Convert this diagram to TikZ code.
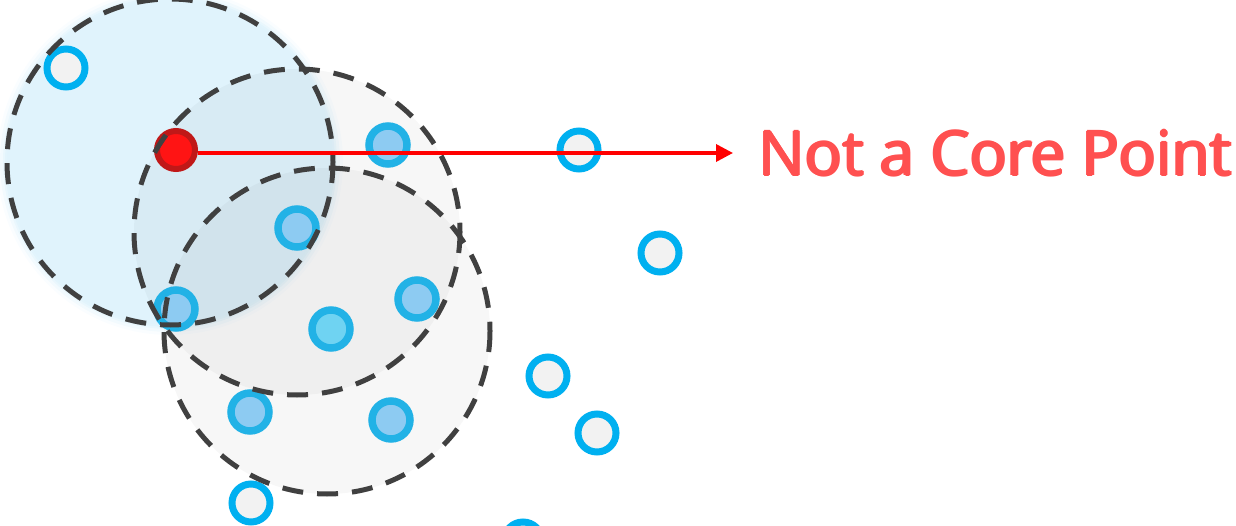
\documentclass[tikz,border=0pt]{standalone}
\usepackage{fontspec}
\setmainfont{Open Sans}
\newfontfamily\lblfont{Open Sans}
\newcommand{\lbltxt}{Not a Core Point}
\newcommand{\heavytxt}{%
  \rlap{\hspace{0.9pt}\lbltxt}%
  \rlap{\hspace{1.8pt}\lbltxt}%
  \rlap{\hspace{2.7pt}\lbltxt}%
  \rlap{\hspace{1.35pt}\raisebox{1.2pt}{\lbltxt}}%
  \rlap{\hspace{1.35pt}\raisebox{-1.2pt}{\lbltxt}}%
  \lbltxt\hspace{2.7pt}}
\usetikzlibrary{arrows.meta}
\definecolor{ringc}{HTML}{00B0F0}
\definecolor{ringb}{HTML}{22B2E6}
\definecolor{ptgray}{HTML}{F2F2F2}
\definecolor{ptblue}{HTML}{8DCBF2}
\definecolor{ptcyan}{HTML}{6FD3F2}
\definecolor{zoneblue}{HTML}{E0F3FC}
\definecolor{dashc}{HTML}{404040}
\definecolor{redfill}{HTML}{FF1414}
\definecolor{redring}{HTML}{C01818}
\definecolor{arrowred}{HTML}{FF0000}
\definecolor{textred}{HTML}{FF5050}
\tikzset{
  x=1pt,y=-1pt,
  zone/.style={circle, minimum size=326pt, inner sep=0pt},
  zoneline/.style={draw=dashc, line width=5pt, dash pattern=on 21pt off 14pt},
  ptout/.style={circle, draw=ringc, fill=ptgray, line width=7pt, minimum size=38pt, inner sep=0pt},
  ptin/.style={circle, draw=ringb, fill=ptblue, line width=7.5pt, minimum size=38pt, inner sep=0pt},
  ptmid/.style={circle, draw=ringb, fill=ptcyan, line width=7.5pt, minimum size=38pt, inner sep=0pt},
  ptred/.style={circle, draw=redring, fill=redfill, line width=6pt, minimum size=38pt, inner sep=0pt},
}
\begin{document}
\begin{tikzpicture}
\useasboundingbox (0,0) rectangle (1236,526);
\begin{scope}
\clip (0,0) rectangle (1236,526);
% blue zone with soft glow
\foreach \e/\o in {10/0.15,7/0.3,4/0.5,2/0.75}{
  \fill[zoneblue, opacity=\o] (170,162) circle[radius=163+\e];
}
\node[zone, fill=zoneblue] (zA) at (170,162) {};
% grey zones (translucent)
\node[zone, fill=black, fill opacity=0.03] (zB) at (297,232) {};
\node[zone, fill=black, fill opacity=0.03] (zC) at (327,331) {};
% points
\node[ptout] (p1) at (66,68) {};
\node[ptred] (pr) at (176,150) {};
\node[ptin] (p2) at (388,145) {};
\node[ptout] (p3) at (579,150) {};
\node[ptin] (p4) at (297,228) {};
\node[ptout] (p5) at (660,253) {};
\node[ptin] (p6) at (176,309) {};
\node[ptmid] (p7) at (331,329) {};
\node[ptin] (p8) at (417,299) {};
\node[ptout] (p9) at (548,376) {};
\node[ptin] (p10) at (250,412) {};
\node[ptin] (p11) at (391,420) {};
\node[ptout] (p12) at (597,433) {};
\node[ptout] (p13) at (251,503) {};
\node[ptout] (p14) at (523,541) {};
% dashed outlines
\draw[zoneline] (zA.center) circle[radius=163];
\draw[zoneline] (zB.center) circle[radius=163];
\draw[zoneline] (zC.center) circle[radius=163];
\end{scope}
% label and arrow
\node[anchor=west, text=textred, inner sep=0pt] (lbl) at (757,153) {\resizebox{476pt}{!}{\lblfont\fontsize{60}{70}\selectfont\heavytxt}};
\coordinate (tip) at (733,153);
\draw[arrowred, line width=3.5pt, -{Triangle[length=17pt,width=17pt]}] (pr.east |- tip) -- (tip);
\end{tikzpicture}
\end{document}
